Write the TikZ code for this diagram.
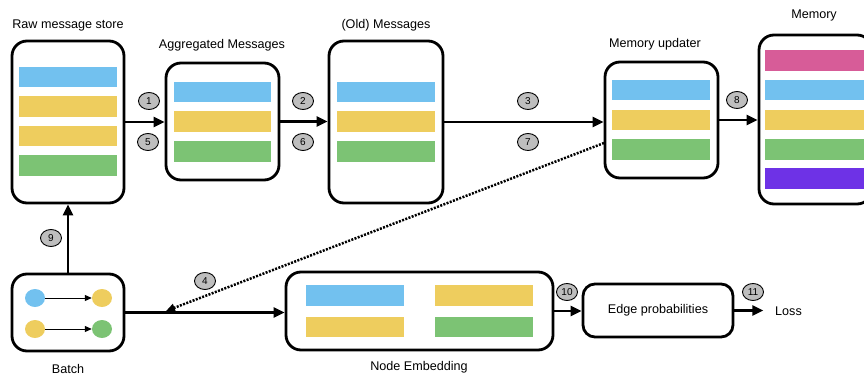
\documentclass[tikz,border=0pt]{standalone}
\usepackage{fontspec}
\setmainfont{Liberation Sans}
\usetikzlibrary{arrows.meta,shapes.geometric,calc}
\definecolor{cblue}{HTML}{72C1EF}
\definecolor{cyellow}{HTML}{EECD5E}
\definecolor{cgreen}{HTML}{7CC374}
\definecolor{cmag}{HTML}{D75C98}
\definecolor{cpurple}{HTML}{6E32E6}
\definecolor{cgray}{HTML}{BEBEBE}
\tikzset{
  box/.style={draw, line width=2.8pt, rounded corners=15pt, inner sep=0pt},
  title/.style={font=\fontsize{12.6}{15}\selectfont, inner sep=0pt},
  num/.style={ellipse, draw, line width=0.9pt, fill=cgray, minimum width=21pt, minimum height=17pt, inner sep=0pt, font=\fontsize{10}{11}\selectfont},
  flow/.style={line width=2.4pt, -{Triangle[length=11pt,width=10pt]}},
  dot/.style={ellipse, minimum width=20pt, minimum height=18pt, inner sep=0pt},
  thin/.style={line width=1pt, -{Triangle[length=7pt,width=6pt]}}
}
\begin{document}
\begin{tikzpicture}[x=1pt,y=-1pt]
\useasboundingbox (0,0) rectangle (864,374);
% boxes
\node[box, minimum width=112pt, minimum height=162pt] (raw) at (68,122) {};
\node[box, minimum width=113pt, minimum height=117pt] (agg) at (222.5,121.5) {};
\node[box, minimum width=114pt, minimum height=162pt] (old) at (386,122) {};
\node[box, minimum width=113pt, minimum height=116pt] (upd) at (661.5,120) {};
\node[box, minimum width=113pt, minimum height=169pt] (mem) at (815.5,119.5) {};
\node[box, minimum width=112pt, minimum height=77pt] (batch) at (68,312.5) {};
\node[box, minimum width=267pt, minimum height=78pt] (emb) at (419.5,311) {};
\node[box, rounded corners=12pt, minimum width=150pt, minimum height=53pt, font=\fontsize{12.6}{15}\selectfont] (edge) at (658,310.5) {Edge probabilities};
% bars
\fill[cblue] (19,67) rectangle (117,87);
\fill[cyellow] (19,96) rectangle (117,117);
\fill[cyellow] (19,126) rectangle (117,146);
\fill[cgreen] (19,155) rectangle (117,176);
\fill[cblue] (174,82) rectangle (271,102);
\fill[cyellow] (174,111) rectangle (271,132);
\fill[cgreen] (174,141) rectangle (271,162);
\fill[cblue] (337,82) rectangle (435,102);
\fill[cyellow] (337,111) rectangle (435,132);
\fill[cgreen] (337,141) rectangle (435,162);
\fill[cblue] (612,80) rectangle (710,100);
\fill[cyellow] (612,110) rectangle (710,130);
\fill[cgreen] (612,139) rectangle (710,160);
\fill[cmag] (765,50) rectangle (866,71);
\fill[cblue] (765,80) rectangle (866,100);
\fill[cyellow] (765,110) rectangle (866,130);
\fill[cgreen] (765,139) rectangle (866,160);
\fill[cpurple] (765,168) rectangle (866,189);
\fill[cblue] (306,285) rectangle (404,306);
\fill[cyellow] (435,285) rectangle (533,306);
\fill[cyellow] (306,317) rectangle (404,337);
\fill[cgreen] (435,317) rectangle (533,337);
% titles
\node[title] (traw) at (68,25) {Raw message store};
\node[title] (tagg) at (222,45) {Aggregated Messages};
\node[title] (told) at (386,25) {(Old) Messages};
\node[title] (tupd) at (655,44) {Memory updater};
\node[title] (tmem) at (814,15) {Memory};
\node[title] (tbatch) at (68,369) {Batch};
\node[title] (temb) at (419,367) {Node Embedding};
\node[title, anchor=west] (loss) at (775,311) {Loss};
% batch content
\node[dot, fill=cblue] (b1) at (35,298) {};
\node[dot, fill=cyellow] (b2) at (102,298) {};
\node[dot, fill=cyellow] (b3) at (35,329) {};
\node[dot, fill=cgreen] (b4) at (102,329) {};
\draw[thin] (b1) -- (b2);
\draw[thin] (b3) -- (b4);
% connectors
\draw[flow] (raw.east) -- (raw.east -| agg.west);
\draw[flow] (agg.east) -- (agg.east -| old.west);
\draw[flow] (old.east) -- (old.east -| upd.west);
\draw[flow] (upd.east) -- (upd.east -| mem.west);
\draw[flow] (batch.north) -- (raw.south);
\draw[flow] (batch.east) -- (batch.east -| emb.west);
\draw[flow] (emb.east) -- (emb.east -| edge.west);
\draw[flow] (edge.east) -- ($(edge.east)+(29,0)$) coordinate (lossin);
\coordinate (u4) at (604,143);
\coordinate (d4) at (166,311);
\draw[line width=2.5pt, dash pattern=on 2pt off 1.4pt, -{Triangle[length=9pt,width=8pt]}] (u4) -- (d4);
% numbers
\node[num] (n1) at (149,101) {1};
\node[num] (n5) at (148,142) {5};
\node[num] (n2) at (303,101) {2};
\node[num] (n6) at (303,142) {6};
\node[num] (n3) at (528,101) {3};
\node[num] (n7) at (528,142) {7};
\node[num] (n8) at (737,100) {8};
\node[num] (n9) at (51,238) {9};
\node[num] (n4) at (205,281) {4};
\node[num] (n10) at (567,292) {10};
\node[num] (n11) at (753,292) {11};
\end{tikzpicture}
\end{document}
